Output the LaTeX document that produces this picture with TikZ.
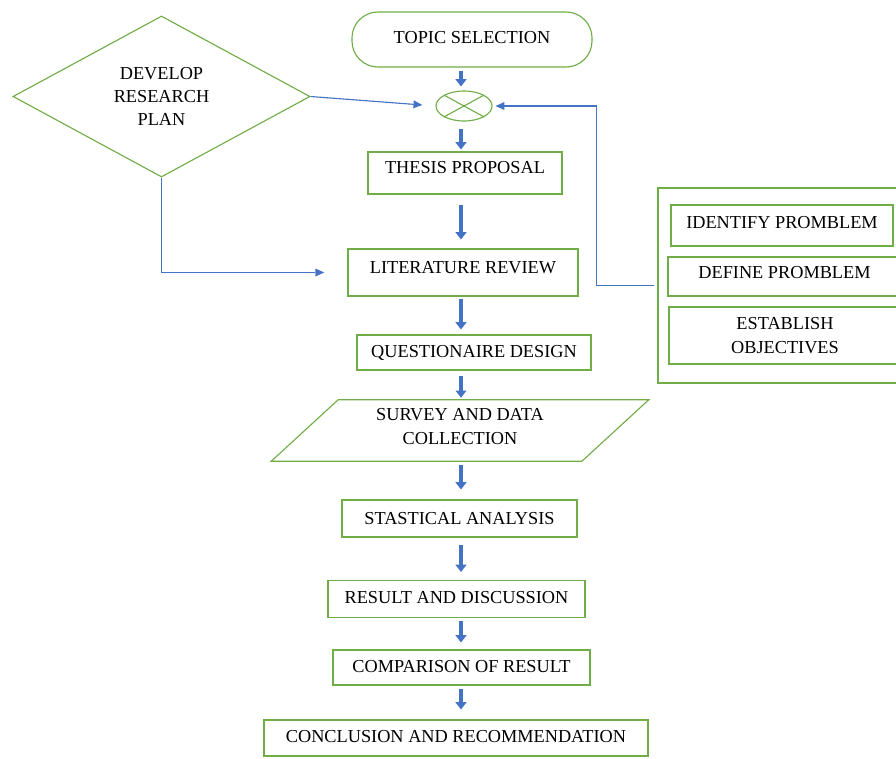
\documentclass[tikz,border=0pt]{standalone}
\usepackage{fontspec}
\setmainfont{Liberation Serif}
\usetikzlibrary{arrows.meta,shapes.geometric}
\definecolor{boxgreen}{HTML}{70AD47}
\definecolor{arrowblue}{HTML}{4472C4}
\begin{document}
\begin{tikzpicture}
[x = 0.025cm,
y = -0.025cm,
font = \fontsize{13}{16.5}\selectfont,
greenbox/.style = {draw=boxgreen, line width=0.8pt, rectangle, inner sep=2pt},
lift/.style = {text depth=#1},
blockarrow/.style = {draw=arrowblue, line width=3.2pt, -{Triangle[width=0.28cm, length=0.18cm, line width=0pt]}},
thinarrow/.style = {draw=arrowblue, line width=0.8pt, -{Triangle[width=0.2cm, length=0.22cm, line width=0pt]}}]
\useasboundingbox (0,0) rectangle (896,758);
\clip (0,0) rectangle (896,758);

\node[greenbox, rounded corners=0.65cm, minimum width=6cm, minimum height=1.375cm, lift=0.125cm] (topic) at (472,39.5) {TOPIC SELECTION};
\node[draw=boxgreen, line width=0.8pt, ellipse, minimum width=1.4cm, minimum height=0.75cm] (cross) at (464,106) {};
\draw[boxgreen, line width=0.8pt] (cross.north west) -- (cross.south east) (cross.north east) -- (cross.south west);

\node[greenbox, minimum width=4.85cm, minimum height=1.05cm, lift=0.3cm] (thesis) at (465,173) {THESIS PROPOSAL};
\node[greenbox, minimum width=5.75cm, minimum height=1.175cm, lift=0.275cm] (lit) at (463,272.5) {LITERATURE REVIEW};
\node[greenbox, minimum width=5.85cm, minimum height=0.875cm] (quest) at (474,352.5) {QUESTIONAIRE DESIGN};
\node[minimum width=7.75cm, minimum height=1.525cm, align=center, lift=0.2cm] (survey) at (460,430.5) {SURVEY AND DATA\\COLLECTION};
\draw[boxgreen, line width=0.8pt] ([xshift=-0.8375cm]survey.south west) -- ([xshift=-0.8375cm]survey.south east) -- ([xshift=0.8375cm]survey.north east) -- ([xshift=0.8375cm]survey.north west) -- cycle;
\node[greenbox, minimum width=5.875cm, minimum height=0.925cm] (stat) at (459.5,518.5) {STASTICAL ANALYSIS};
\node[greenbox, minimum width=6.425cm, minimum height=0.925cm, lift=0.1cm] (result) at (456.5,599) {RESULT AND DISCUSSION};
\node[greenbox, minimum width=6.425cm, minimum height=0.875cm, lift=0.075cm] (comp) at (461.5,667.5) {COMPARISON OF RESULT};
\node[greenbox, minimum width=9.6cm, minimum height=0.9cm, lift=0.1cm] (concl) at (456,738) {CONCLUSION AND RECOMMENDATION};

\node[draw=boxgreen, line width=0.8pt, diamond, aspect=1.85, minimum width=7.425cm, minimum height=4.025cm, align=center] (dev) at (161.5,96.5) {DEVELOP\\RESEARCH\\PLAN};

\node[greenbox, minimum width=6.35cm, minimum height=4.875cm] (problems) at (785,285.5) {};
\node[greenbox, minimum width=5.55cm, minimum height=1.025cm, lift=0.175cm] (identify) at (782,225.5) {IDENTIFY PROMBLEM};
\node[greenbox, minimum width=5.825cm, minimum height=0.975cm, lift=0.225cm] (define) at (784.5,276.5) {DEFINE PROMBLEM};
\node[greenbox, minimum width=5.8cm, minimum height=1.425cm, align=center] (establish) at (785,335.5) {ESTABLISH\\OBJECTIVES};

\coordinate (spine) at (461,0);
\foreach \a/\b/\s/\e in {topic/cross/0.075/0.1, cross/thesis/0.175/0.05, thesis/lit/0.25/0.225, lit/quest/0.05/0.125, quest/survey/0.125/0.05, survey/stat/0.1/0.25, stat/result/0.175/0.2, result/comp/0.075/0.175, comp/concl/0.075/0.25}
  \draw[blockarrow, shorten <=\s cm, shorten >=\e cm] (\a.south -| spine) -- (\b.north -| spine);

\draw[thinarrow, shorten >=0.33cm] (dev.east) -- (cross.west);
\draw[thinarrow, shorten >=0.58cm] (dev.south) |- (lit.west);
\draw[thinarrow, shorten <=0.075cm, shorten >=0.075cm] (problems.west) -- ++(-61,0) |- (cross.east);
\end{tikzpicture}
\end{document}
